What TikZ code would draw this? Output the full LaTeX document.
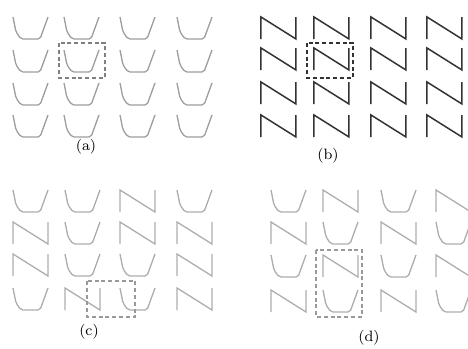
\documentclass[tikz,border=0pt]{standalone}
\begin{document}
\begin{tikzpicture}[x=0.5pt, y=-0.5pt,
        copa/.pic={\draw[rounded corners=1pt] (0,0) -- (3,15) -- (8,22) -- (27,22) -- (35,0);},
        zeta/.pic={\draw (0,22) -- (0,0) -- (35,22) -- (35,0);},
        claro/.style={black!38, line width=0.65pt},
        palido/.style={black!32, line width=0.65pt},
        oscuro/.style={black!80, line width=0.75pt},
        marco/.style={dash pattern=on 2pt off 1.4pt, line width=0.7pt},
        etiqueta/.style={font=\fontsize{7.5}{9}\selectfont, inner sep=0pt}
    ]
    \useasboundingbox (0,0) rectangle (468,349);
    \clip (0,0) rectangle (468,349);

    % (a)
    \foreach \x in {13,64,120,177}
        \foreach \y in {17,50,83,115}
            \pic[claro] at (\x,\y) {copa};
    \draw [marco, black!50] (59,43) rectangle (105,78);
    \node (la) [etiqueta] at (86,147) {(a)};

    % (b)
    \foreach \x in {261,314,371,427}
        \foreach \y in {17,48,82,115}
            \pic[oscuro] at (\x,\y) {zeta};
    \draw [marco, black!80, line width=0.9pt] (307,43) rectangle (353,78);
    \node (lb) [etiqueta] at (328,156) {(b)};

    % (c)
    \foreach \fila [count=\j from 0] in {{0,0,1,0},{1,0,1,1},{1,0,0,1},{0,1,0,1}}
        \foreach \t [count=\i from 0] in \fila {
            \pgfmathsetmacro\px{{13,65,120,177}[\i]}
            \pgfmathsetmacro\py{{190,222,254,288}[\j]}
            \ifnum\t=0 \pic[palido] at (\px,\py) {copa}; \else \pic[palido] at (\px,\py) {zeta}; \fi
        }
    \draw [marco, black!40] (87,281) rectangle (135,317);
    \node (lc) [etiqueta] at (89,332) {(c)};

    % (d)
    \foreach \fila [count=\j from 0] in {{0,1,0,1},{1,0,1,0},{0,1,0,1},{1,0,1,0}}
        \foreach \t [count=\i from 0] in \fila {
            \pgfmathsetmacro\px{{271,323,381,436}[\i]}
            \pgfmathsetmacro\py{{190,222,255,290}[\j]}
            \ifnum\t=0 \pic[palido] at (\px,\py) {copa}; \else \pic[palido] at (\px,\py) {zeta}; \fi
        }
    \draw [marco, black!40] (316,250) rectangle (362,317);
    \node (ld) [etiqueta] at (369,338) {(d)};
\end{tikzpicture}
\end{document}
